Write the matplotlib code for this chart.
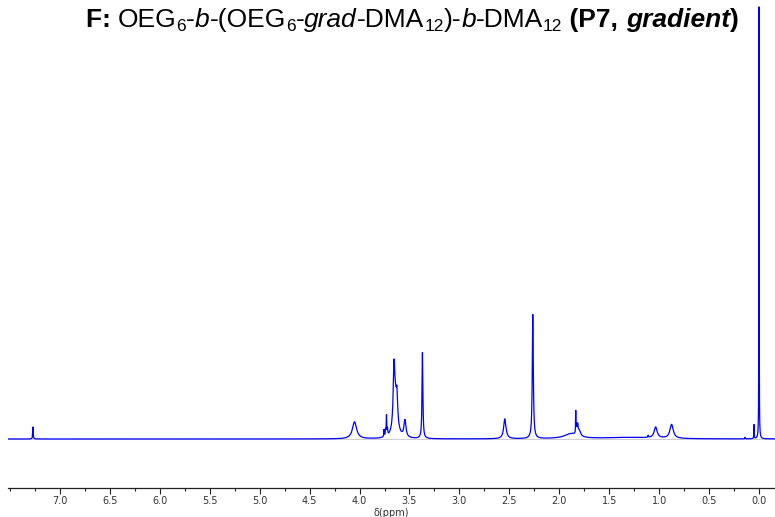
import numpy as np
import matplotlib.pyplot as plt
from matplotlib.ticker import MultipleLocator, FixedLocator

peak_ppm = [7.27, 4.05, 3.755, 3.74, 3.73, 3.72, 3.655, 3.64, 3.625, 3.545,
            3.37, 2.545, 2.265, 1.88, 1.835, 1.825, 1.815, 1.80, 1.30, 1.11,
            1.035, 0.875, 0.14, 0.05, 0.0]
peak_height = [12, 17, 7, 6, 20, 6, 52, 38, 22, 17,
               86, 20, 124, 5, 22, 9, 8, 6, 1.5, 2,
               11, 14, 1.5, 14, 432]
peak_hwhm = [0.003, 0.025, 0.003, 0.003, 0.003, 0.003, 0.009, 0.022, 0.007, 0.012,
             0.005, 0.014, 0.006, 0.08, 0.002, 0.004, 0.004, 0.015, 0.3, 0.003,
             0.018, 0.02, 0.003, 0.002, 0.0015]

major_ticks = [7.0, 6.5, 6.0, 5.5, 5.0, 4.5, 4.0, 3.5, 3.0, 2.5, 2.0, 1.5, 1.0, 0.5, 0.0]

# --- espectro como suma de lorentzianas ---
ppm = np.arange(-0.2, 7.6, 0.0005)
intensity = np.zeros_like(ppm)
for c, h, w in zip(peak_ppm, peak_height, peak_hwhm):
    intensity += h / (1 + ((ppm - c) / w) ** 2)

fig = plt.figure(figsize=(7.75, 5.17), dpi=100)
ax = fig.add_axes([8 / 775, 1 - 488 / 517, 1 - 8 / 775, 488 / 517])

ax.axhline(0, color='#cfcfcf', lw=0.8, zorder=1)
ax.plot(ppm, intensity, color='#0000ff', lw=0.9, zorder=2)

ax.set_xlim(7.52, -0.16)
ax.set_ylim(-49, 439)

for s in ['top', 'left', 'right']:
    ax.spines[s].set_visible(False)
ax.spines['bottom'].set_linewidth(0.9)
ax.spines['bottom'].set_color('#222222')
ax.set_yticks([])
ax.xaxis.set_major_locator(FixedLocator(major_ticks))
ax.xaxis.set_minor_locator(MultipleLocator(0.25))
ax.tick_params(axis='x', which='major', length=4, width=0.8, labelsize=7,
               pad=2, color='#222222', labelcolor='#333333')
ax.tick_params(axis='x', which='minor', length=2.5, width=0.8, color='#222222')
ax.set_xticklabels([f"{t:.1f}" for t in major_ticks])
ax.set_xlabel('δ(ppm)', fontsize=7, labelpad=1, color='#333333')
ax.patch.set_alpha(0)

# --- título compuesto por trozos (negrita, cursiva, subíndices) ---
pieces = [
    ("F: ", 'bold', 'normal', 0),
    ("OEG", 'normal', 'normal', 0), ("6", 'normal', 'normal', 1),
    ("-", 'normal', 'normal', 0), ("b", 'normal', 'italic', 0),
    ("-(OEG", 'normal', 'normal', 0), ("6", 'normal', 'normal', 1),
    ("-", 'normal', 'normal', 0), ("grad", 'normal', 'italic', 0),
    ("-DMA", 'normal', 'normal', 0), ("12", 'normal', 'normal', 1),
    (")-", 'normal', 'normal', 0), ("b", 'normal', 'italic', 0),
    ("-DMA", 'normal', 'normal', 0), ("12", 'normal', 'normal', 1),
    (" (P7, ", 'bold', 'normal', 0), ("gradient", 'bold', 'italic', 0),
    (")", 'bold', 'normal', 0),
]
renderer = fig.canvas.get_renderer()
W, H = 775, 517
x_px = 0
texts = []
for txt, weight, style, sub in pieces:
    size = 12.5 if sub else 19
    y_px = 27 + (4 if sub else 0)
    t = fig.text(x_px / W, 1 - y_px / H, txt, fontsize=size, fontweight=weight,
                 fontstyle=style, family='Liberation Sans', va='baseline',
                 ha='left', color='black')
    texts.append(t)
    bb = t.get_window_extent(renderer)
    x_px += bb.width
start = 412 - x_px / 2
for t in texts:
    x, y = t.get_position()
    t.set_position((x + start / W, y))

fig.savefig('out.png', dpi=100)
